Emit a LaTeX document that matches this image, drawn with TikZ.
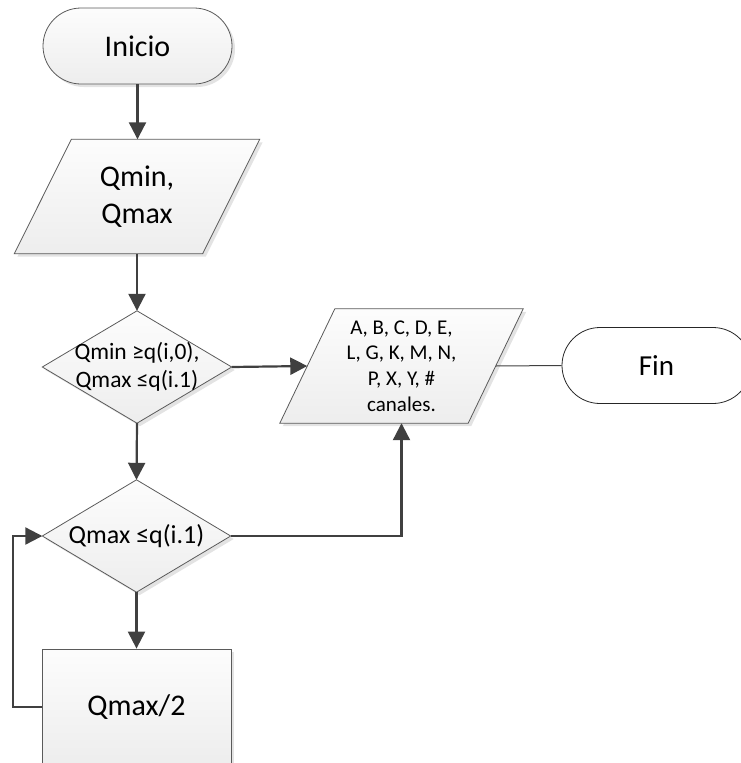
\documentclass[tikz,border=0pt]{standalone}
\usepackage{fontspec}
\setmainfont{Carlito}
\usetikzlibrary{shapes.misc,shadows,arrows.meta,calc,backgrounds}
\definecolor{linegray}{HTML}{404040}
\definecolor{edgegray}{HTML}{5A5A5A}
\begin{document}
\begin{tikzpicture}[x=1pt,y=-1pt,
  conn/.style={draw=linegray, line width=2.2pt, -{Triangle[length=17pt,width=17pt]}},
  plainline/.style={draw=linegray, line width=1pt},
  shapefill/.style={draw=edgegray, line width=0.8pt, top color=gray!2, bottom color=gray!14,
    drop shadow={shadow xshift=3pt, shadow yshift=-3pt, opacity=0.22, fill=gray}},
  holder/.style={draw=none, inner sep=0pt, align=center},
  bigtext/.style={font=\fontsize{30}{37}\selectfont},
]
\useasboundingbox (0,0) rectangle (741,763);

% start / end terminals
\node[rounded rectangle, shapefill, minimum width=189pt, minimum height=76pt, inner sep=0pt, bigtext]
  (inicio) at (137.5,46) {Inicio};
\node[rounded rectangle, draw=black!85, line width=0.8pt, fill=white, minimum width=189pt, minimum height=76pt,
  inner sep=0pt, font=\fontsize{29}{35}\selectfont] (fin) at (656.5,365.5) {Fin};

% input data (parallelogram)
\node[holder, minimum width=188pt, minimum height=114pt, bigtext] (datos) at (137,196.5) {Qmin,\\Qmax};

% first decision
\node[holder, minimum width=189pt, minimum height=112pt, font=\fontsize{23.5}{28.5}\selectfont]
  (cond1) at (137,367) {Qmin {\char"2265}q(i,0),\\Qmax {\char"2264}q(i.1)};

% output (parallelogram)
\node[holder, minimum width=188pt, minimum height=114pt, font=\fontsize{21}{25.6}\selectfont]
  (salida) at (401.5,366) {A, B, C, D, E,\\L, G, K, M, N,\\P, X, Y, \#\\canales.};

% second decision
\node[holder, minimum width=188pt, minimum height=112pt, font=\fontsize{26}{31}\selectfont]
  (cond2) at (136.5,536) {Qmax {\char"2264}q(i.1)};

% process box
\node[rectangle, shapefill, minimum width=189pt, minimum height=116pt, inner sep=0pt, bigtext]
  (mitad) at (136.5,707) {Qmax/2};

% outlines of the parallelograms and diamonds, behind their text
\begin{scope}[on background layer]
  \path[shapefill] ([xshift=28.5pt]datos.north west) -- ([xshift=28.5pt]datos.north east)
    -- ([xshift=-28.5pt]datos.south east) -- ([xshift=-28.5pt]datos.south west) -- cycle;
  \path[shapefill] ([xshift=27.5pt]salida.north west) -- ([xshift=27.5pt]salida.north east)
    -- ([xshift=-27.5pt]salida.south east) -- ([xshift=-27.5pt]salida.south west) -- cycle;
  \path[shapefill] (cond1.north) -- (cond1.east) -- (cond1.south) -- (cond1.west) -- cycle;
  \path[shapefill] (cond2.north) -- (cond2.east) -- (cond2.south) -- (cond2.west) -- cycle;
\end{scope}

% connectors
\draw[conn] (inicio.south) -- (inicio.south |- datos.north);
\draw[conn] (datos.south) -- (cond1.north);
\draw[conn] (cond1.east) -- (salida.west);
\draw[plainline] (salida.east) -- (fin.west);
\draw[conn] (cond1.south) -- (cond2.north);
\draw[conn] (cond2.east) -| (salida.south);
\draw[conn] (cond2.south) -- (mitad.north);
\coordinate (lazo) at (13,707);
\draw[conn] (mitad.west) -- (lazo) |- (cond2.west);
\end{tikzpicture}
\end{document}
